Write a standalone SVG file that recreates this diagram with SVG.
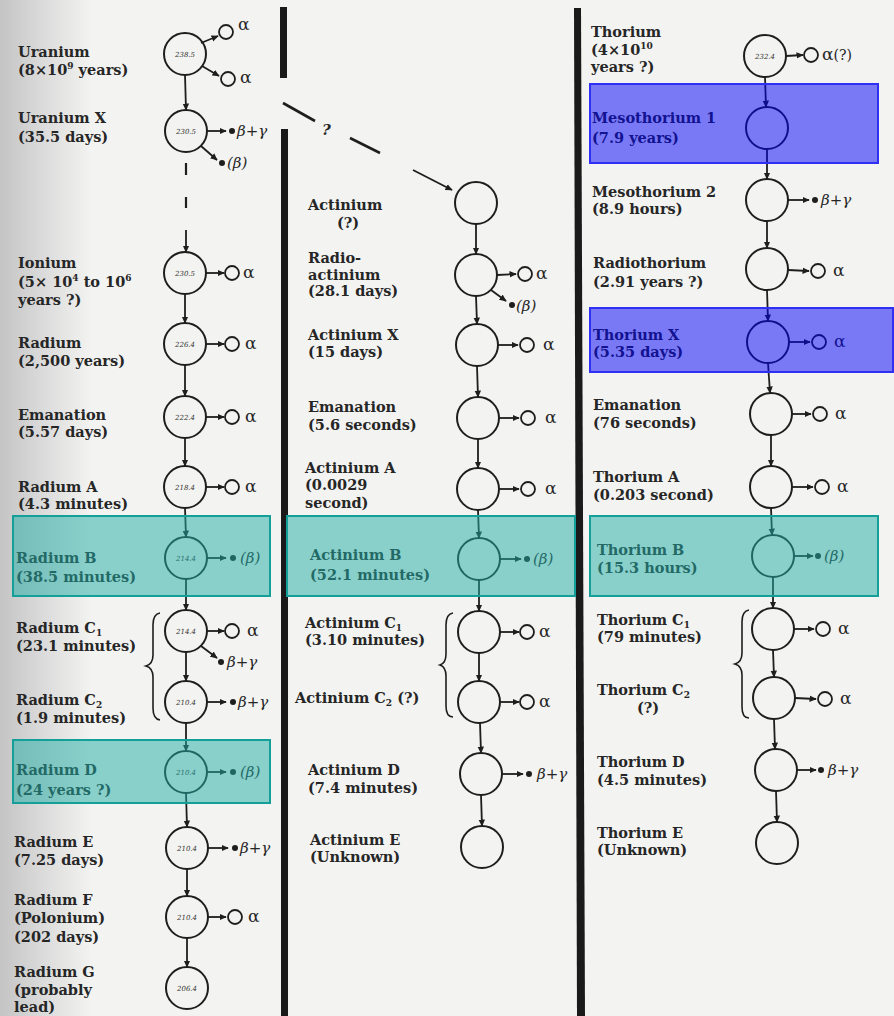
<svg xmlns="http://www.w3.org/2000/svg" width="894" height="1016" viewBox="0 0 894 1016">
<defs>
<linearGradient id="scan" x1="0" y1="0" x2="1" y2="0">
<stop offset="0" stop-color="#c4c4c4"/>
<stop offset="0.5" stop-color="#dcdcdc"/>
<stop offset="1" stop-color="#f2f2f0"/>
</linearGradient>
<marker id="ah" viewBox="0 0 10 10" refX="9" refY="5" markerWidth="4" markerHeight="4" orient="auto"><path d="M0,0.5 L10,5 L0,9.5 z" fill="#1e1e1e"/></marker>
<style>
.t{font-family:"DejaVu Serif","Liberation Serif",serif;font-size:14.5px;font-weight:bold;fill:#262626}
.m{fill:none;stroke:#1e1e1e;stroke-width:2}
.s{fill:none;stroke:#1e1e1e;stroke-width:1.8}
.d{fill:#1e1e1e}
.g{font-family:"DejaVu Serif","Liberation Serif",serif;font-size:15px;font-style:italic;fill:#262626}
.a{font-family:"DejaVu Serif","Liberation Serif",serif;font-size:17px;fill:#262626}
.n{font-family:"DejaVu Serif","Liberation Serif",serif;font-size:7px;font-style:italic;fill:#333;text-anchor:middle}
.c{stroke:#1e1e1e;stroke-width:1.8;fill:none;marker-end:url(#ah)}
.dv{fill:#1a1a1a}
.br{fill:none;stroke:#1e1e1e;stroke-width:1.6}
.ht{fill:rgb(32,172,164);fill-opacity:0.5;stroke:rgb(20,160,152);stroke-width:2}
.hb{fill:rgb(0,0,250);fill-opacity:0.5;stroke:#3030f5;stroke-width:2}
</style>
</defs>
<rect x="0" y="0" width="894" height="1016" fill="#f3f3f1"/>
<rect x="0" y="0" width="90" height="1016" fill="url(#scan)"/>

<g id="dividers">
<rect class="dv" x="280" y="7" width="7" height="71"/>
<rect class="dv" x="281" y="129" width="7" height="887"/>
<path class="dv" d="M574,8 L581,8 L585,1016 L577,1016 z"/>
</g>

<g id="connectors">
<!-- uranium series verticals -->
<line class="c" x1="185" y1="75" x2="186" y2="110"/>
<line x1="186" y1="163" x2="186" y2="175" stroke="#1e1e1e" stroke-width="2.2"/>
<line x1="186" y1="197" x2="186" y2="208" stroke="#1e1e1e" stroke-width="2.2"/>
<line class="c" x1="186" y1="230" x2="186" y2="252"/>
<line class="c" x1="185" y1="294" x2="185" y2="323"/>
<line class="c" x1="185" y1="365" x2="185" y2="396"/>
<line class="c" x1="185" y1="438" x2="185" y2="466"/>
<line class="c" x1="185" y1="508" x2="186" y2="537"/>
<line class="c" x1="186" y1="579" x2="186" y2="610"/>
<line class="c" x1="186" y1="652" x2="186" y2="681"/>
<line class="c" x1="186" y1="723" x2="186" y2="751"/>
<line class="c" x1="186" y1="793" x2="187" y2="827"/>
<line class="c" x1="187" y1="869" x2="187" y2="896"/>
<line class="c" x1="187" y1="938" x2="187" y2="967"/>
<!-- dashed diagonal to actinium -->
<line x1="283" y1="103" x2="315" y2="121" stroke="#1e1e1e" stroke-width="2.6"/>
<line x1="350" y1="138" x2="380" y2="153" stroke="#1e1e1e" stroke-width="2.6"/>
<line class="c" x1="413" y1="170" x2="452" y2="190" stroke-width="2.6"/>
<!-- actinium series verticals -->
<line class="c" x1="476" y1="224" x2="476" y2="254"/>
<line class="c" x1="476" y1="296" x2="477" y2="324"/>
<line class="c" x1="477" y1="366" x2="478" y2="397"/>
<line class="c" x1="478" y1="439" x2="478" y2="468"/>
<line class="c" x1="478" y1="510" x2="479" y2="538"/>
<line class="c" x1="479" y1="580" x2="479" y2="611"/>
<line class="c" x1="479" y1="653" x2="479" y2="681"/>
<line class="c" x1="480" y1="723" x2="481" y2="753"/>
<line class="c" x1="481" y1="795" x2="482" y2="826"/>
<!-- thorium series verticals -->
<line class="c" x1="765" y1="77" x2="766" y2="107"/>
<line class="c" x1="767" y1="149" x2="767" y2="179"/>
<line class="c" x1="767" y1="221" x2="767" y2="248"/>
<line class="c" x1="767" y1="290" x2="768" y2="321"/>
<line class="c" x1="768" y1="363" x2="770" y2="393"/>
<line class="c" x1="771" y1="435" x2="771" y2="466"/>
<line class="c" x1="771" y1="508" x2="772" y2="535"/>
<line class="c" x1="773" y1="577" x2="773" y2="608"/>
<line class="c" x1="773" y1="650" x2="774" y2="677"/>
<line class="c" x1="774" y1="719" x2="775" y2="749"/>
<line class="c" x1="776" y1="791" x2="777" y2="822"/>
<!-- emission arrows -->
<line class="c" x1="201" y1="43" x2="218" y2="36"/>
<line class="c" x1="202" y1="66" x2="219" y2="76"/>
<line class="c" x1="207" y1="131" x2="226" y2="131"/>
<line class="c" x1="201" y1="146" x2="217" y2="160"/>
<line class="c" x1="206" y1="273" x2="224" y2="273"/>
<line class="c" x1="206" y1="344" x2="224" y2="344"/>
<line class="c" x1="206" y1="417" x2="224" y2="417"/>
<line class="c" x1="206" y1="487" x2="224" y2="487"/>
<line class="c" x1="207" y1="558" x2="226" y2="558"/>
<line class="c" x1="207" y1="631" x2="224" y2="631"/>
<line class="c" x1="201" y1="646" x2="217" y2="658"/>
<line class="c" x1="207" y1="702" x2="226" y2="702"/>
<line class="c" x1="207" y1="772" x2="226" y2="772"/>
<line class="c" x1="208" y1="848" x2="228" y2="848"/>
<line class="c" x1="208" y1="917" x2="226" y2="917"/>
<line class="c" x1="497" y1="275" x2="516" y2="274"/>
<line class="c" x1="491" y1="290" x2="506" y2="301"/>
<line class="c" x1="498" y1="345" x2="518" y2="345"/>
<line class="c" x1="499" y1="418" x2="519" y2="418"/>
<line class="c" x1="499" y1="489" x2="519" y2="489"/>
<line class="c" x1="500" y1="559" x2="521" y2="559"/>
<line class="c" x1="500" y1="632" x2="519" y2="632"/>
<line class="c" x1="500" y1="702" x2="519" y2="702"/>
<line class="c" x1="502" y1="774" x2="523" y2="774"/>
<line class="c" x1="786" y1="56" x2="803" y2="55"/>
<line class="c" x1="788" y1="200" x2="809" y2="200"/>
<line class="c" x1="788" y1="270" x2="809" y2="271"/>
<line class="c" x1="789" y1="342" x2="810" y2="342"/>
<line class="c" x1="792" y1="414" x2="811" y2="414"/>
<line class="c" x1="792" y1="487" x2="813" y2="487"/>
<line class="c" x1="794" y1="556" x2="813" y2="556"/>
<line class="c" x1="794" y1="629" x2="814" y2="629"/>
<line class="c" x1="795" y1="698" x2="816" y2="699"/>
<line class="c" x1="797" y1="770" x2="816" y2="770"/>
</g>
<text class="g" x="322" y="135" font-size="18" font-weight="bold">?</text>

<!-- braces -->
<path class="br" d="M160,613 Q153,614 153,625 L153,655 Q153,664 146,666 Q153,668 153,677 L153,708 Q153,719 160,720"/>
<path class="br" d="M453,613 Q446,614 446,625 L446,654 Q446,663 440,665 Q446,667 446,676 L446,706 Q446,717 453,717"/>
<path class="br" d="M749,610 Q742,611 742,622 L742,653 Q742,662 735,664 Q742,666 742,675 L742,707 Q742,718 749,718"/>

<!-- ===== Uranium series ===== -->
<g id="uranium">
<circle class="m" cx="185" cy="54" r="21"/><text class="n" x="185" y="57">238.5</text>
<text class="t" x="18" y="57">Uranium</text>
<text class="t" x="18" y="75">(8×10<tspan font-size="9" dy="-6">9</tspan><tspan dy="6"> years)</tspan></text>
<circle class="s" cx="226" cy="32" r="7"/><text class="a" x="238" y="30">α</text>
<circle class="s" cx="228" cy="79" r="7"/><text class="a" x="240" y="83">α</text>
</g>
<g id="uranium-x">
<circle class="m" cx="186" cy="131" r="21"/><text class="n" x="186" y="134">230.5</text>
<text class="t" x="18" y="123">Uranium X</text>
<text class="t" x="18" y="142">(35.5 days)</text>
<circle class="d" cx="232" cy="131" r="3"/><text class="g" x="237" y="136">β+γ</text>
<circle class="d" cx="222" cy="163" r="3"/><text class="g" x="227" y="168">(β)</text>
</g>
<g id="ionium">
<circle class="m" cx="185" cy="273" r="21"/><text class="n" x="185" y="276">230.5</text>
<text class="t" x="18" y="268">Ionium</text>
<text class="t" x="18" y="287">(5× 10<tspan font-size="9" dy="-6">4</tspan><tspan dy="6"> to 10</tspan><tspan font-size="9" dy="-6">6</tspan></text>
<text class="t" x="18" y="305">years ?)</text>
<circle class="s" cx="232" cy="273" r="7"/><text class="a" x="243" y="278">α</text>
</g>
<g id="radium">
<circle class="m" cx="185" cy="344" r="21"/><text class="n" x="185" y="347">226.4</text>
<text class="t" x="18" y="348">Radium</text>
<text class="t" x="18" y="366">(2,500 years)</text>
<circle class="s" cx="232" cy="344" r="7"/><text class="a" x="245" y="349">α</text>
</g>
<g id="emanation-ra">
<circle class="m" cx="185" cy="417" r="21"/><text class="n" x="185" y="420">222.4</text>
<text class="t" x="18" y="420">Emanation</text>
<text class="t" x="18" y="437">(5.57 days)</text>
<circle class="s" cx="232" cy="417" r="7"/><text class="a" x="245" y="422">α</text>
</g>
<g id="radium-a">
<circle class="m" cx="185" cy="487" r="21"/><text class="n" x="185" y="490">218.4</text>
<text class="t" x="18" y="492">Radium A</text>
<text class="t" x="18" y="509">(4.3 minutes)</text>
<circle class="s" cx="232" cy="487" r="7"/><text class="a" x="245" y="492">α</text>
</g>
<g id="radium-b">
<circle class="m" cx="186" cy="558" r="21"/><text class="n" x="186" y="561">214.4</text>
<text class="t" x="16" y="563">Radium B</text>
<text class="t" x="16" y="582">(38.5 minutes)</text>
<circle class="d" cx="233" cy="558" r="3"/><text class="g" x="240" y="563">(β)</text>
</g>
<g id="radium-c1">
<circle class="m" cx="186" cy="631" r="21"/><text class="n" x="186" y="634">214.4</text>
<text class="t" x="16" y="633">Radium C<tspan font-size="9" dy="3">1</tspan></text>
<text class="t" x="16" y="651">(23.1 minutes)</text>
<circle class="s" cx="232" cy="631" r="7"/><text class="a" x="247" y="636">α</text>
<circle class="d" cx="221" cy="662" r="3"/><text class="g" x="227" y="667">β+γ</text>
</g>
<g id="radium-c2">
<circle class="m" cx="186" cy="702" r="21"/><text class="n" x="186" y="705">210.4</text>
<text class="t" x="16" y="705">Radium C<tspan font-size="9" dy="3">2</tspan></text>
<text class="t" x="16" y="723">(1.9 minutes)</text>
<circle class="d" cx="233" cy="702" r="3"/><text class="g" x="238" y="707">β+γ</text>
</g>
<g id="radium-d">
<circle class="m" cx="186" cy="772" r="21"/><text class="n" x="186" y="775">210.4</text>
<text class="t" x="16" y="775">Radium D</text>
<text class="t" x="16" y="795">(24 years ?)</text>
<circle class="d" cx="233" cy="772" r="3"/><text class="g" x="240" y="777">(β)</text>
</g>
<g id="radium-e">
<circle class="m" cx="187" cy="848" r="21"/><text class="n" x="187" y="851">210.4</text>
<text class="t" x="14" y="847">Radium E</text>
<text class="t" x="14" y="865">(7.25 days)</text>
<circle class="d" cx="235" cy="848" r="3"/><text class="g" x="240" y="853">β+γ</text>
</g>
<g id="radium-f">
<circle class="m" cx="187" cy="917" r="21"/><text class="n" x="187" y="920">210.4</text>
<text class="t" x="14" y="905">Radium F</text>
<text class="t" x="14" y="923">(Polonium)</text>
<text class="t" x="14" y="942">(202 days)</text>
<circle class="s" cx="235" cy="917" r="7"/><text class="a" x="248" y="922">α</text>
</g>
<g id="radium-g">
<circle class="m" cx="187" cy="988" r="21"/><text class="n" x="187" y="991">206.4</text>
<text class="t" x="14" y="977">Radium G</text>
<text class="t" x="14" y="995">(probably</text>
<text class="t" x="14" y="1012">lead)</text>
</g>

<!-- ===== Actinium series ===== -->
<g id="actinium">
<circle class="m" cx="476" cy="203" r="21"/>
<text class="t" x="308" y="210">Actinium</text>
<text class="t" x="337" y="228">(?)</text>
</g>
<g id="radioactinium">
<circle class="m" cx="476" cy="275" r="21"/>
<text class="t" x="308" y="263">Radio-</text>
<text class="t" x="308" y="280">actinium</text>
<text class="t" x="308" y="296">(28.1 days)</text>
<circle class="s" cx="525" cy="274" r="7"/><text class="a" x="536" y="279">α</text>
<circle class="d" cx="512" cy="305" r="3"/><text class="g" x="516" y="311">(β)</text>
</g>
<g id="actinium-x">
<circle class="m" cx="477" cy="345" r="21"/>
<text class="t" x="308" y="340">Actinium X</text>
<text class="t" x="308" y="357">(15 days)</text>
<circle class="s" cx="527" cy="345" r="7"/><text class="a" x="543" y="350">α</text>
</g>
<g id="emanation-ac">
<circle class="m" cx="478" cy="418" r="21"/>
<text class="t" x="308" y="412">Emanation</text>
<text class="t" x="308" y="430">(5.6 seconds)</text>
<circle class="s" cx="528" cy="418" r="7"/><text class="a" x="545" y="423">α</text>
</g>
<g id="actinium-a">
<circle class="m" cx="478" cy="489" r="21"/>
<text class="t" x="305" y="473">Actinium A</text>
<text class="t" x="305" y="490">(0.0029</text>
<text class="t" x="305" y="508">second)</text>
<circle class="s" cx="528" cy="489" r="7"/><text class="a" x="545" y="494">α</text>
</g>
<g id="actinium-b">
<circle class="m" cx="479" cy="559" r="21"/>
<text class="t" x="310" y="560">Actinium B</text>
<text class="t" x="310" y="580">(52.1 minutes)</text>
<circle class="d" cx="527" cy="559" r="3"/><text class="g" x="533" y="564">(β)</text>
</g>
<g id="actinium-c1">
<circle class="m" cx="479" cy="632" r="21"/>
<text class="t" x="305" y="628">Actinium C<tspan font-size="9" dy="3">1</tspan></text>
<text class="t" x="305" y="645">(3.10 minutes)</text>
<circle class="s" cx="527" cy="632" r="7"/><text class="a" x="539" y="637">α</text>
</g>
<g id="actinium-c2">
<circle class="m" cx="479" cy="702" r="21"/>
<text class="t" x="295" y="703">Actinium C<tspan font-size="9" dy="3">2</tspan><tspan dy="-3"> (?)</tspan></text>
<circle class="s" cx="527" cy="702" r="7"/><text class="a" x="539" y="707">α</text>
</g>
<g id="actinium-d">
<circle class="m" cx="481" cy="774" r="21"/>
<text class="t" x="308" y="775">Actinium D</text>
<text class="t" x="308" y="793">(7.4 minutes)</text>
<circle class="d" cx="529" cy="774" r="3"/><text class="g" x="537" y="779">β+γ</text>
</g>
<g id="actinium-e">
<circle class="m" cx="482" cy="847" r="21"/>
<text class="t" x="310" y="845">Actinium E</text>
<text class="t" x="310" y="862">(Unknown)</text>
</g>

<!-- ===== Thorium series ===== -->
<g id="thorium">
<circle class="m" cx="765" cy="56" r="21"/><text class="n" x="765" y="59">232.4</text>
<text class="t" x="591" y="37">Thorium</text>
<text class="t" x="591" y="55">(4×10<tspan font-size="9" dy="-6">10</tspan></text>
<text class="t" x="591" y="72">years ?)</text>
<circle class="s" cx="811" cy="55" r="7"/><text class="a" x="822" y="60">α<tspan font-size="14">(?)</tspan></text>
</g>
<g id="mesothorium-1">
<circle class="m" cx="767" cy="128" r="21"/>
<text class="t" x="592" y="123">Mesothorium 1</text>
<text class="t" x="592" y="143">(7.9 years)</text>
</g>
<g id="mesothorium-2">
<circle class="m" cx="767" cy="200" r="21"/>
<text class="t" x="592" y="197">Mesothorium 2</text>
<text class="t" x="592" y="214">(8.9 hours)</text>
<circle class="d" cx="815" cy="200" r="3"/><text class="g" x="821" y="205">β+γ</text>
</g>
<g id="radiothorium">
<circle class="m" cx="767" cy="269" r="21"/>
<text class="t" x="593" y="268">Radiothorium</text>
<text class="t" x="593" y="287">(2.91 years ?)</text>
<circle class="s" cx="818" cy="271" r="7"/><text class="a" x="833" y="276">α</text>
</g>
<g id="thorium-x">
<circle class="m" cx="768" cy="342" r="21"/>
<text class="t" x="593" y="340">Thorium X</text>
<text class="t" x="593" y="357">(5.35 days)</text>
<circle class="s" cx="819" cy="342" r="7"/><text class="a" x="834" y="347">α</text>
</g>
<g id="emanation-th">
<circle class="m" cx="771" cy="414" r="21"/>
<text class="t" x="593" y="410">Emanation</text>
<text class="t" x="593" y="428">(76 seconds)</text>
<circle class="s" cx="820" cy="414" r="7"/><text class="a" x="835" y="419">α</text>
</g>
<g id="thorium-a">
<circle class="m" cx="771" cy="487" r="21"/>
<text class="t" x="593" y="482">Thorium A</text>
<text class="t" x="593" y="500">(0.203 second)</text>
<circle class="s" cx="822" cy="487" r="7"/><text class="a" x="837" y="492">α</text>
</g>
<g id="thorium-b">
<circle class="m" cx="773" cy="556" r="21"/>
<text class="t" x="597" y="555">Thorium B</text>
<text class="t" x="597" y="573">(15.3 hours)</text>
<circle class="d" cx="818" cy="556" r="3"/><text class="g" x="824" y="561">(β)</text>
</g>
<g id="thorium-c1">
<circle class="m" cx="773" cy="629" r="21"/>
<text class="t" x="597" y="625">Thorium C<tspan font-size="9" dy="3">1</tspan></text>
<text class="t" x="597" y="642">(79 minutes)</text>
<circle class="s" cx="823" cy="629" r="7"/><text class="a" x="838" y="634">α</text>
</g>
<g id="thorium-c2">
<circle class="m" cx="774" cy="698" r="21"/>
<text class="t" x="597" y="695">Thorium C<tspan font-size="9" dy="3">2</tspan></text>
<text class="t" x="637" y="713">(?)</text>
<circle class="s" cx="825" cy="699" r="7"/><text class="a" x="840" y="704">α</text>
</g>
<g id="thorium-d">
<circle class="m" cx="776" cy="770" r="21"/>
<text class="t" x="597" y="767">Thorium D</text>
<text class="t" x="597" y="785">(4.5 minutes)</text>
<circle class="d" cx="821" cy="770" r="3"/><text class="g" x="828" y="775">β+γ</text>
</g>
<g id="thorium-e">
<circle class="m" cx="777" cy="843" r="21"/>
<text class="t" x="597" y="838">Thorium E</text>
<text class="t" x="597" y="855">(Unknown)</text>
</g>

<!-- highlights -->
<g id="highlights">
<rect class="ht" x="13" y="516" width="257" height="80"/>
<rect class="ht" x="287" y="516" width="288" height="80"/>
<rect class="ht" x="590" y="516" width="288" height="80"/>
<rect class="ht" x="13" y="740" width="257" height="63"/>
<rect class="hb" x="590" y="84" width="288" height="79"/>
<rect class="hb" x="590" y="308" width="303" height="64"/>
</g>
</svg>
